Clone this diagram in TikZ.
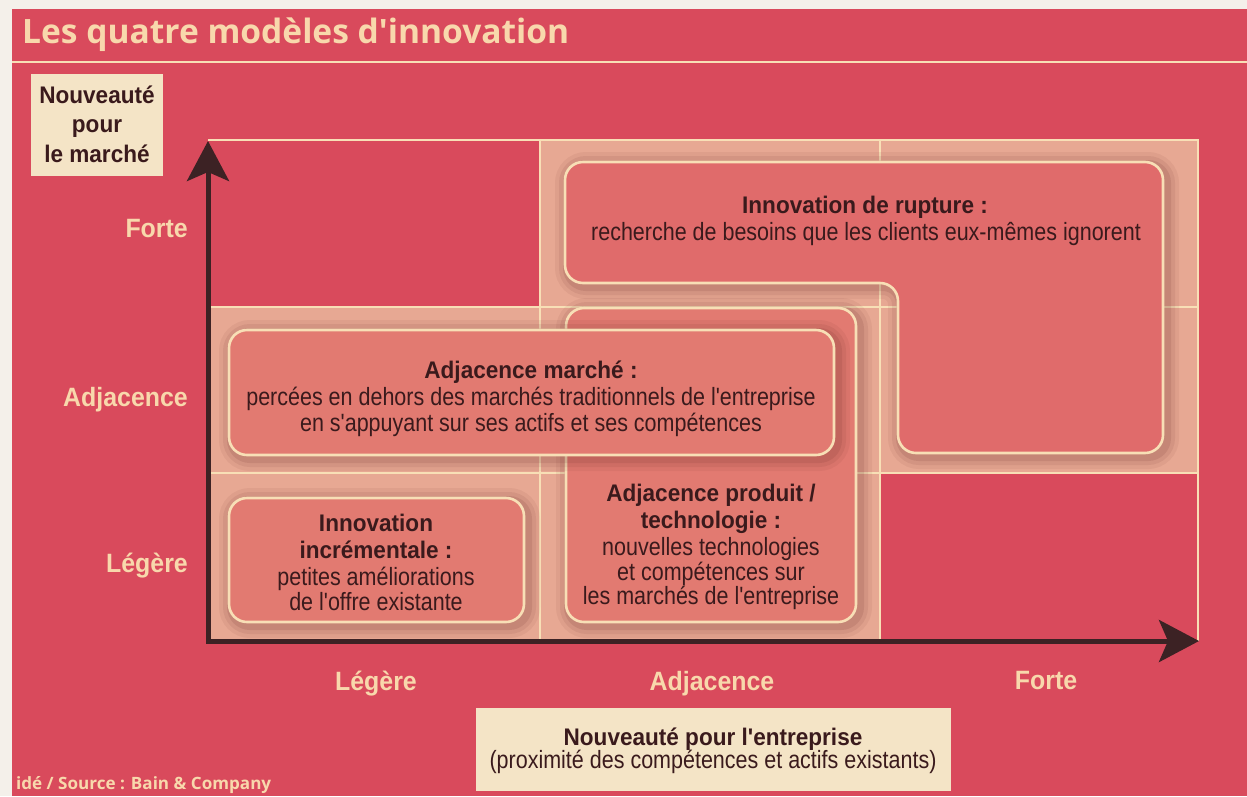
\documentclass[tikz,border=0pt]{standalone}
\usepackage{fontspec}
\setmainfont{Liberation Sans}
\newfontfamily\bodyf{Liberation Sans}[FakeStretch=0.86]
\newfontfamily\boldf{Liberation Sans}[FakeStretch=0.94]
\newfontfamily\titlef{Open Sans}
\usetikzlibrary{arrows.meta}
\definecolor{bgred}{HTML}{D94A5C}
\definecolor{stripc}{HTML}{F4F0EA}
\definecolor{peach}{HTML}{E7A893}
\definecolor{boxfill}{HTML}{E27A71}
\definecolor{rupfill}{HTML}{E06B6B}
\definecolor{bordc}{HTML}{F8DFB6}
\definecolor{shadc}{HTML}{6A2A28}
\definecolor{labc}{HTML}{F8D8AC}
\definecolor{axisc}{HTML}{3C2224}
\definecolor{darkt}{HTML}{3A1A1C}
\definecolor{lboxc}{HTML}{F4E4C6}
\begin{document}
\begin{tikzpicture}[x=1pt,y=-1pt,
  box/.style={draw=bordc, line width=2.6pt, rounded corners=18pt},
  glow/.style={draw=shadc, rounded corners=18pt},
  gridln/.style={draw=bordc, line width=1.4pt},
  axlab/.style={text=labc, inner sep=0pt, font=\fontsize{26.5}{30}\selectfont\boldf\bfseries},
  bt/.style={text=darkt, inner sep=0pt, anchor=base, font=\fontsize{24}{28}\selectfont\boldf\bfseries},
  tx/.style={text=darkt, inner sep=0pt, anchor=base, font=\fontsize{25}{28}\selectfont\bodyf},
  lbox/.style={fill=lboxc, inner sep=0pt},
  arrowtip/.tip={Stealth[length=40pt,width=42pt,inset=9pt]},
]
\useasboundingbox (0,0) rectangle (1247,796);
% background
\fill[bgred] (0,0) rectangle (1247,796);
\fill[stripc] (0,0) rectangle (1247,9);
\fill[stripc] (0,0) rectangle (12,796);
% title
\node[anchor=base west, inner sep=0pt, text=labc] (title) at (22,43)
  {\resizebox{547pt}{!}{\fontsize{32}{36}\selectfont\titlef\bfseries Les quatre modèles d'innovation}};
\draw[bordc, line width=1.5pt] (12,62) -- (1247,62);
% peach staircase region
\fill[peach] (540,140) -- (1198,140) -- (1198,473) -- (880,473) -- (880,641)
  -- (208,641) -- (208,307) -- (540,307) -- cycle;
% grid
\draw[gridln] (208,140) -- (1198,140) -- (1198,641);
\draw[gridln] (540,140) -- (540,641);
\draw[gridln] (880,140) -- (880,641);
\draw[gridln] (208,307) -- (1198,307);
\draw[gridln] (208,473) -- (1198,473);
% rupture box
\foreach \w/\o in {26/0.07,18/0.09,10/0.13}{
  \draw[glow, line width=\w pt, opacity=\o, shift={(3,3)}] (565,162) -- (1163,162) -- (1163,453)
    -- (898,453) -- (898,283) -- (565,283) -- cycle;}
\draw[box, fill=rupfill] (565,162) -- (1163,162) -- (1163,453)
    -- (898,453) -- (898,283) -- (565,283) -- cycle;
% produit box
\foreach \w/\o in {26/0.07,18/0.09,10/0.13}{
  \draw[glow, line width=\w pt, opacity=\o, shift={(3,3)}] (566,308) rectangle (856,622);}
\draw[box, fill=boxfill] (566,308) rectangle (856,622);
% marche box
\foreach \w/\o in {26/0.07,18/0.09,10/0.13}{
  \draw[glow, line width=\w pt, opacity=\o, shift={(3,3)}] (229,330) rectangle (834,455);}
\draw[box, fill=boxfill] (229,330) rectangle (834,455);
% incrementale box
\foreach \w/\o in {26/0.07,18/0.09,10/0.13}{
  \draw[glow, line width=\w pt, opacity=\o, shift={(3,3)}] (229,498) rectangle (524,622);}
\draw[box, fill=boxfill] (229,498) rectangle (524,622);
% texts
\node[bt] (rupT) at (865,213) {Innovation de rupture :};
\node[tx] (rupD) at (866,240) {recherche de besoins que les clients eux-mêmes ignorent};
\node[bt] (marT) at (531,378) {Adjacence marché :};
\node[tx] (marD1) at (531,405) {percées en dehors des marchés traditionnels de l'entreprise};
\node[tx] (marD2) at (531,431) {en s'appuyant sur ses actifs et ses compétences};
\node[bt] (incT1) at (376,531) {Innovation};
\node[bt] (incT2) at (376,558) {incrémentale :};
\node[tx] (incD1) at (376,585) {petites améliorations};
\node[tx] (incD2) at (376,610) {de l'offre existante};
\node[bt] (proT1) at (711,501) {Adjacence produit /};
\node[bt] (proT2) at (711,528) {technologie :};
\node[tx] (proD1) at (711,555) {nouvelles technologies};
\node[tx] (proD2) at (711,580) {et compétences sur};
\node[tx] (proD3) at (711,604) {les marchés de l'entreprise};
% axes
\coordinate (O) at (208,641);
\coordinate (ytop) at (208,141);
\coordinate (xend) at (1199,641);
\draw[axisc, line width=5pt, line join=miter, arrowtip-arrowtip] (ytop) -- (O) -- (xend);
% axis labels
\node[axlab, anchor=base east] (yF) at (188,237) {Forte};
\node[axlab, anchor=base east] (yA) at (188,406) {Adjacence};
\node[axlab, anchor=base east] (yL) at (188,572) {Légère};
\node[axlab, anchor=base] (xL) at (376,690) {Légère};
\node[axlab, anchor=base] (xA) at (712,690) {Adjacence};
\node[axlab, anchor=base] (xF) at (1046,689) {Forte};
% axis title boxes
\node[lbox, minimum width=132pt, minimum height=102pt] (ybox) at (97,125) {};
\node[bt] (yt1) at (97,103) {Nouveauté};
\node[bt] (yt2) at (97,132) {pour};
\node[bt] (yt3) at (97,162) {le marché};
\node[lbox, minimum width=475pt, minimum height=83pt] (xbox) at (713,749.5) {};
\node[bt] (xt1) at (713,745) {Nouveauté pour l'entreprise};
\node[tx] (xt2) at (713,768) {(proximité des compétences et actifs existants)};
% source
\node[anchor=base west, inner sep=0pt, text=labc] (src) at (16,789)
  {\resizebox{255pt}{13pt}{\titlef\bfseries idé / Source : Bain \& Company}};
\end{tikzpicture}
\end{document}
